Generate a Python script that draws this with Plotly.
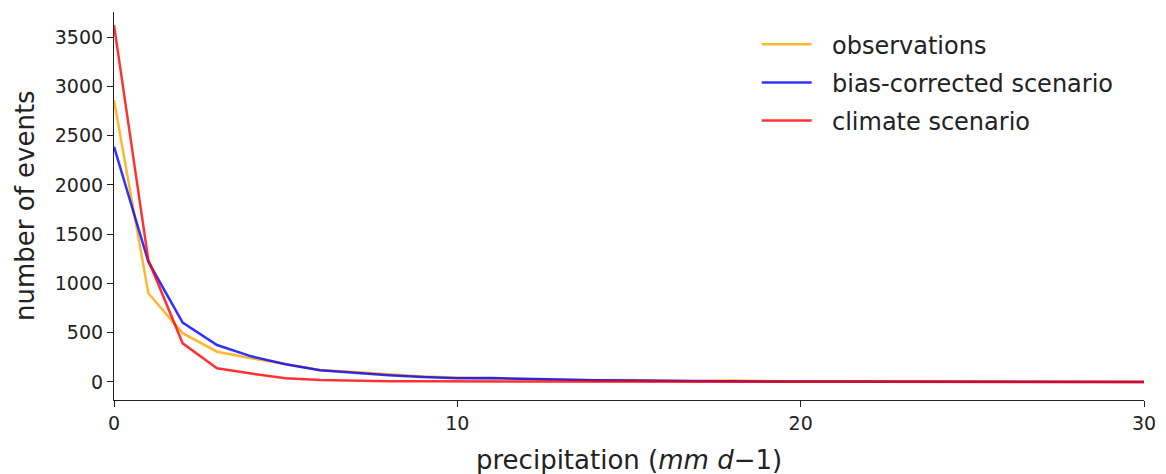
import plotly.graph_objects as go

precip = list(range(0, 31))
observations = [2860, 900, 495, 307, 240, 180, 122, 100, 75, 55, 45, 35, 28, 22, 18, 20, 12, 8, 14, 6,
                5, 4, 3, 3, 2, 2, 2, 1, 1, 1, 1]
bias_corrected = [2387, 1220, 602, 375, 260, 180, 118, 92, 68, 50, 38, 40, 30, 24, 18, 14, 10, 8, 6, 5,
                  4, 3, 3, 2, 2, 1, 1, 1, 1, 1, 0]
climate = [3620, 1237, 392, 139, 85, 38, 20, 12, 8, 6, 5, 4, 3, 3, 2, 2, 2, 1, 1, 1,
           1, 1, 1, 0, 0, 0, 0, 0, 0, 0, 0]

series = [("observations", observations, "orange"),
          ("bias-corrected scenario", bias_corrected, "blue"),
          ("climate scenario", climate, "red")]

fig = go.Figure()
for i, (name, vals, col) in enumerate(series):
    fig.add_trace(go.Scatter(x=precip, y=vals, mode="lines", name="\u00a0\u00a0" + name,
                             legendgroup=f"g{i}",
                             line=dict(color=col, width=2.5), opacity=0.8))

font = "DejaVu Sans"
fig.update_layout(
    width=1166, height=474,
    margin=dict(l=114, r=22, t=12, b=74, autoexpand=False),
    paper_bgcolor="white", plot_bgcolor="white",
    font=dict(family=font, color="#222"),
    showlegend=True,
    legend=dict(x=0.624, y=0.974, xanchor="left", yanchor="top",
                font=dict(size=24, family=font, color="#222"),
                bgcolor="rgba(0,0,0,0)", itemwidth=50, tracegroupgap=4),
    xaxis=dict(range=[0, 30], tickvals=[0, 10, 20, 30], showgrid=False, zeroline=False,
               showline=True, linecolor="#222", linewidth=1.2, ticks="outside", ticklen=6,
               tickcolor="#222", tickfont=dict(size=19), automargin=False),
    yaxis=dict(range=[-183, 3754], tickvals=[0, 500, 1000, 1500, 2000, 2500, 3000, 3500],
               showgrid=False, zeroline=False,
               showline=True, linecolor="#222", linewidth=1.2, ticks="outside", ticklen=6,
               tickcolor="#222", tickfont=dict(size=19), automargin=False),
    annotations=[
        dict(text="precipitation (<i>mm</i> <i>d</i>−1)", xref="paper", yref="paper",
             x=0.5, y=-0.1546, xanchor="center", yanchor="middle", showarrow=False,
             font=dict(size=26, family=font, color="#222")),
        dict(text="number of events", xref="paper", yref="paper",
             x=-0.0864, y=0.5, xanchor="center", yanchor="middle", textangle=-90, showarrow=False,
             font=dict(size=26, family=font, color="#222")),
    ],
)

fig.write_html("out.html")
